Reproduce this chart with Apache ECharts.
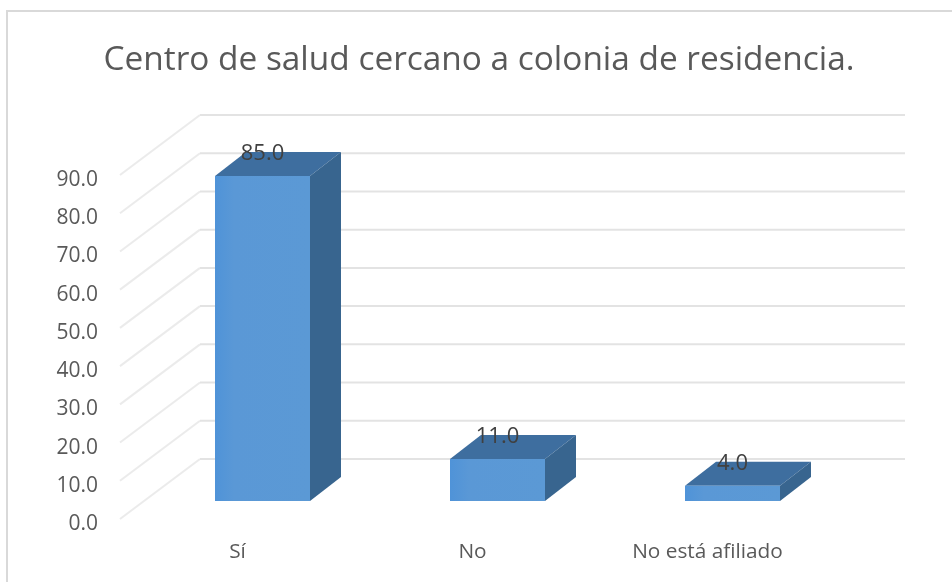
<!DOCTYPE html>
<html>
<head>
<meta charset="utf-8">
<title>Centro de salud cercano a colonia de residencia.</title>
<script src="https://cdn.jsdelivr.net/npm/echarts@6/dist/echarts.min.js"></script>
<style>
  html, body { margin: 0; padding: 0; background: #fff; }
  #chart { width: 952px; height: 582px; }
</style>
</head>
<body>
<div id="chart"></div>
<script>
  const categories = ['Sí', 'No', 'No está afiliado'];
  const values = [85.0, 11.0, 4.0];
  const gridTicks = [0, 10, 20, 30, 40, 50, 60, 70, 80, 90];

  // profundidad del "piso" 3D en pixeles
  const wallDx = 80;
  const wallDy = -60;
  const barFrontDx = 25;
  const barFrontDy = -18;
  const barDepthDx = 31;
  const barDepthDy = -24;
  const barWidthPx = 95;

  const textFont = '"Open Sans", sans-serif';
  const myChart = echarts.init(document.getElementById('chart'), null, { renderer: 'canvas' });

  const renderWallLine = (params, api) => {
    const left = api.coord([0, api.value(0)]);
    const right = api.coord([categories.length, api.value(0)]);
    const corner = [left[0] + wallDx, left[1] + wallDy];
    return {
      type: 'group',
      children: [
        {
          type: 'line',
          shape: { x1: left[0], y1: left[1], x2: corner[0], y2: corner[1] },
          style: { stroke: '#ebebeb', lineWidth: 2 },
        },
        {
          type: 'line',
          shape: { x1: corner[0], y1: corner[1], x2: right[0] + wallDx, y2: right[1] + wallDy },
          style: { stroke: '#e3e3e3', lineWidth: 2 },
        },
      ],
    };
  };

  const renderBar = (params, api) => {
    const top = api.coord([api.value(0) + 0.5, api.value(1)]);
    const base = api.coord([api.value(0) + 0.5, 0]);
    const x0 = top[0] + barFrontDx - barWidthPx / 2;
    const x1 = x0 + barWidthPx;
    const yTop = top[1] + barFrontDy;
    const yBase = base[1] + barFrontDy;
    return {
      type: 'group',
      children: [
        {
          type: 'polygon',
          shape: { points: [[x0, yTop], [x1, yTop], [x1 + barDepthDx, yTop + barDepthDy], [x0 + barDepthDx, yTop + barDepthDy]] },
          style: { fill: '#3e6e9f' },
        },
        {
          type: 'polygon',
          shape: { points: [[x1, yTop], [x1 + barDepthDx, yTop + barDepthDy], [x1 + barDepthDx, yBase + barDepthDy], [x1, yBase]] },
          style: { fill: '#38658f' },
        },
        {
          type: 'rect',
          shape: { x: x0, y: yTop, width: barWidthPx, height: yBase - yTop },
          style: {
            fill: new echarts.graphic.LinearGradient(0, 0, 1, 0, [
              { offset: 0, color: '#4f93d8' },
              { offset: 0.2, color: '#5a98d6' },
              { offset: 1, color: '#5b99d5' },
            ]),
          },
        },
        {
          type: 'text',
          style: {
            text: api.value(1).toFixed(1),
            x: (x0 + x1) / 2,
            y: yTop + barDepthDy + 2,
            align: 'center',
            verticalAlign: 'middle',
            font: '22px ' + textFont,
            fill: '#404040',
          },
        },
      ],
    };
  };

  const option = {
    animation: false,
    backgroundColor: '#fff',
    title: {
      text: 'Centro de salud cercano a colonia de residencia.',
      left: 474,
      textAlign: 'center',
      top: 39,
      textStyle: {
        fontFamily: textFont,
        fontSize: 33.4,
        fontWeight: 'normal',
        color: '#595959',
      },
    },
    graphic: [{
      type: 'polyline',
      shape: { points: [[7, 582], [7, 11], [952, 11]] },
      style: { fill: 'none', stroke: '#d9d9d9', lineWidth: 2 },
    }],
    grid: { left: 120, right: 127, top: 175, bottom: 63 },
    xAxis: [{
        type: 'category',
        data: categories,
        axisLine: { show: false },
        axisTick: { show: false },
        axisLabel: {
          interval: 0,
          margin: 23,
          fontFamily: textFont,
          fontSize: 20.8,
          color: '#595959',
        },
      },
      {
        type: 'value',
        min: 0,
        max: categories.length,
        show: false,
      },
    ],
    yAxis: {
      type: 'value',
      min: 0,
      max: 90,
      interval: 10,
      axisLine: { show: false },
      axisTick: { show: false },
      splitLine: { show: false },
      axisLabel: {
        margin: 22,
        verticalAlign: 'top',
        lineHeight: 10,
        formatter: (v) => v.toFixed(1),
        fontFamily: textFont,
        fontSize: 21,
        color: '#595959',
      },
    },
    series: [{
        name: 'paredes',
        type: 'custom',
        xAxisIndex: 1,
        renderItem: renderWallLine,
        encode: { y: 0 },
        data: gridTicks.map((t) => [t]),
        silent: true,
        z: 1,
      },
      {
        name: 'Centro de salud',
        type: 'custom',
        xAxisIndex: 1,
        renderItem: renderBar,
        encode: { x: 0, y: 1 },
        data: values.map((v, i) => [i, v]),
        z: 2,
      },
    ],
  };

  myChart.setOption(option);
</script>
</body>
</html>
